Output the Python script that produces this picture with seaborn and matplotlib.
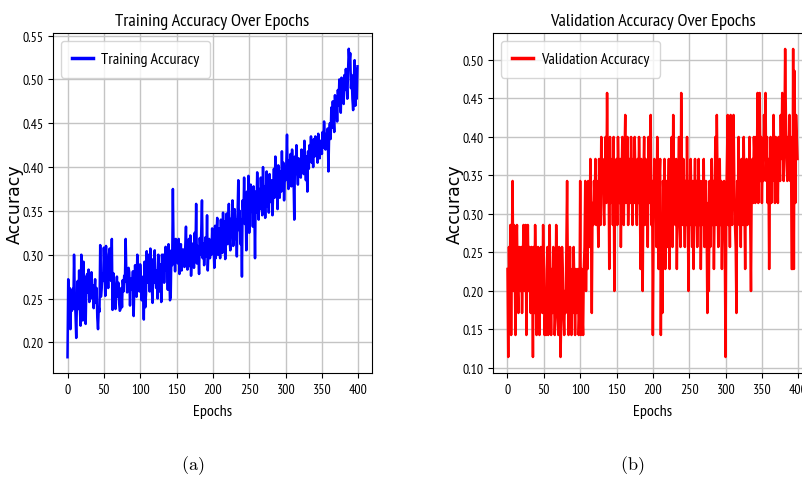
import numpy as np
import matplotlib
matplotlib.use("Agg")
import matplotlib.pyplot as plt
import seaborn as sns

# training accuracy, in thousandths, one row per 20 epochs
train_milli = [
    183, 272, 238, 262, 215, 250, 236, 261, 238, 300, 255, 232, 205, 247, 270, 238, 282, 240, 219, 300,
    262, 225, 292, 248, 275, 221, 268, 278, 257, 283, 246, 272, 260, 280, 250, 265, 239, 258, 272, 245,
    262, 228, 215, 240, 235, 311, 252, 262, 278, 270, 308, 284, 253, 310, 276, 285, 262, 300, 307, 282,
    270, 318, 237, 279, 266, 248, 238, 261, 275, 252, 268, 245, 236, 238, 262, 240, 271, 258, 276, 269,
    318, 278, 257, 270, 285, 280, 242, 268, 273, 260, 281, 230, 266, 288, 270, 252, 300, 276, 262, 258,
    289, 270, 248, 265, 275, 226, 292, 240, 255, 304, 268, 296, 300, 258, 307, 272, 263, 245, 295, 268,
    305, 275, 262, 282, 250, 300, 271, 258, 289, 246, 300, 285, 300, 268, 291, 309, 282, 296, 260, 312,
    283, 248, 252, 305, 288, 375, 300, 310, 281, 318, 295, 304, 290, 318, 278, 300, 312, 282, 291, 306,
    302, 286, 310, 332, 292, 283, 300, 318, 287, 322, 276, 298, 292, 313, 285, 325, 296, 358, 290, 310,
    305, 278, 319, 300, 326, 362, 296, 313, 288, 305, 320, 298, 345, 282, 308, 318, 296, 314, 300, 330,
    306, 312, 285, 333, 296, 322, 342, 300, 330, 318, 296, 340, 315, 302, 348, 320, 338, 295, 326, 347,
    312, 335, 358, 318, 305, 341, 330, 362, 310, 326, 352, 318, 340, 298, 346, 385, 328, 350, 312, 340,
    275, 362, 340, 388, 335, 362, 305, 372, 338, 390, 325, 352, 380, 350, 366, 332, 378, 355, 296, 372,
    348, 394, 360, 340, 375, 352, 388, 365, 345, 400, 362, 378, 342, 372, 395, 355, 380, 348, 392, 368,
    360, 385, 345, 372, 398, 365, 412, 375, 390, 352, 402, 380, 365, 395, 372, 418, 380, 405, 362, 390,
    385, 402, 437, 390, 375, 408, 385, 415, 378, 420, 400, 388, 340, 412, 392, 425, 398, 380, 410, 395,
    405, 388, 420, 400, 415, 392, 430, 405, 385, 412, 372, 418, 398, 425, 410, 435, 405, 420, 400, 432,
    412, 435, 418, 428, 405, 438, 420, 410, 430, 425, 415, 440, 422, 452, 430, 420, 438, 428, 444, 395,
    438, 450, 432, 468, 445, 475, 455, 440, 482, 460, 478, 452, 488, 470, 500, 480, 462, 502, 478, 495,
    472, 505, 488, 512, 495, 478, 510, 535, 520, 530, 490, 505, 478, 465, 498, 522, 470, 512, 478, 515,
]

# validation accuracy as correct answers out of 35 samples
val_correct = [
    8, 4, 9, 7, 10, 5, 9, 12, 7, 10, 8, 5, 9, 10, 7, 6, 9, 8, 7, 9,
    6, 8, 10, 7, 8, 10, 5, 8, 10, 7, 9, 8, 6, 9, 8, 4, 9, 6, 10, 8,
    5, 7, 9, 6, 5, 8, 9, 7, 6, 10, 8, 5, 6, 5, 8, 9, 5, 6, 10, 7,
    5, 8, 6, 9, 7, 5, 6, 10, 8, 6, 5, 9, 7, 4, 6, 9, 8, 6, 5, 7,
    6, 9, 12, 8, 5, 7, 9, 6, 5, 8, 6, 9, 7, 5, 8, 6, 7, 8, 5, 6,
    12, 5, 8, 6, 5, 8, 9, 12, 7, 10, 8, 12, 11, 9, 13, 10, 6, 11, 10, 12,
    11, 13, 10, 12, 11, 9, 13, 11, 10, 14, 12, 13, 11, 10, 12, 14, 11, 16, 12, 13,
    8, 14, 11, 12, 13, 10, 14, 7, 12, 11, 13, 10, 14, 12, 11, 13, 9, 12, 14, 11,
    10, 13, 15, 11, 12, 14, 10, 12, 13, 11, 14, 12, 10, 13, 11, 14, 12, 11, 10, 13,
    11, 14, 12, 8, 13, 11, 7, 12, 14, 10, 13, 11, 12, 9, 14, 11, 13, 15, 10, 12,
    5, 10, 13, 11, 12, 9, 14, 11, 8, 12, 13, 5, 10, 6, 12, 11, 13, 8, 10, 12,
    9, 11, 13, 8, 12, 10, 14, 9, 15, 11, 12, 10, 13, 8, 11, 12, 14, 10, 9, 16,
    12, 10, 13, 11, 9, 12, 10, 14, 11, 7, 12, 10, 13, 11, 9, 12, 8, 11, 13, 10,
    12, 9, 11, 13, 10, 12, 8, 11, 12, 10, 13, 9, 11, 12, 10, 6, 11, 7, 12, 9,
    11, 13, 10, 12, 8, 11, 14, 10, 15, 12, 9, 11, 13, 10, 12, 8, 11, 10, 12, 9,
    4, 11, 13, 15, 10, 12, 9, 15, 11, 10, 13, 15, 12, 10, 9, 6, 12, 11, 14, 10,
    12, 9, 13, 11, 10, 14, 11, 8, 12, 13, 10, 12, 11, 14, 10, 7, 12, 13, 11, 14,
    13, 11, 14, 12, 16, 11, 13, 16, 12, 14, 11, 13, 12, 15, 13, 16, 12, 14, 11, 13,
    8, 12, 14, 11, 13, 12, 15, 13, 11, 14, 12, 13, 11, 14, 13, 12, 15, 13, 16, 14,
    12, 14, 18, 15, 13, 12, 14, 13, 15, 12, 14, 8, 8, 18, 8, 17, 11, 15, 14, 13,
]

epochs = np.arange(len(train_milli))
train_acc = np.array(train_milli) / 1000
val_acc = np.array(val_correct) / 35

narrow = ['PT Sans Narrow', 'Roboto Condensed', 'DejaVu Sans']
plt.rcParams['mathtext.fontset'] = 'cm'

fig = plt.figure(figsize=(8.03, 4.81), dpi=100)
ax1 = fig.add_axes([53 / 803, 107 / 481, 319 / 803, 340 / 481])
# right panel runs past the figure edge, as in the reference
ax2 = fig.add_axes([493 / 803, 107 / 481, 319 / 803, 340 / 481])

panels = [
    (ax1, train_acc, 'blue', 'Training Accuracy', 'Training Accuracy Over Epochs', np.arange(0.20, 0.56, 0.05)),
    (ax2, val_acc, 'red', 'Validation Accuracy', 'Validation Accuracy Over Epochs', np.arange(0.10, 0.51, 0.05)),
]

for ax, acc, color, label, title, yticks in panels:
    sns.lineplot(x=epochs, y=acc, ax=ax, color=color, linewidth=1.8, label=label)
    ax.set_title(title, fontsize=13.2, family=narrow)
    ax.set_xlabel('Epochs', fontsize=11.5, family=narrow, labelpad=6)
    ax.set_ylabel('Accuracy', fontsize=12.5, family='DejaVu Sans')
    ax.yaxis.set_label_coords(-0.09, 0.5)
    ax.set_xticks(np.arange(0, 401, 50))
    ax.set_yticks(yticks)
    ax.set_yticklabels([f'{v:.2f}' for v in yticks])
    for t in ax.get_xticklabels() + ax.get_yticklabels():
        t.set_family(narrow)
        t.set_fontsize(10)
    ax.grid(True, color='#c4c4c4', linewidth=1.0)
    leg = ax.legend(loc='upper left', prop={'family': narrow, 'size': 11.5},
                    handlelength=1.3, handletextpad=0.5, borderpad=0.7)
    for h in leg.get_lines():
        h.set_linewidth(2.5)

ax1.set_ylim(0.165, 0.553)
ax2.set_ylim(0.0935, 0.535)

fig.text(193 / 803, 1 - 466 / 481, r'$\mathrm{(a)}$', ha='center', va='center', fontsize=13)
fig.text(632 / 803, 1 - 466 / 481, r'$\mathrm{(b)}$', ha='center', va='center', fontsize=13)

fig.savefig('out.png', dpi=100)
